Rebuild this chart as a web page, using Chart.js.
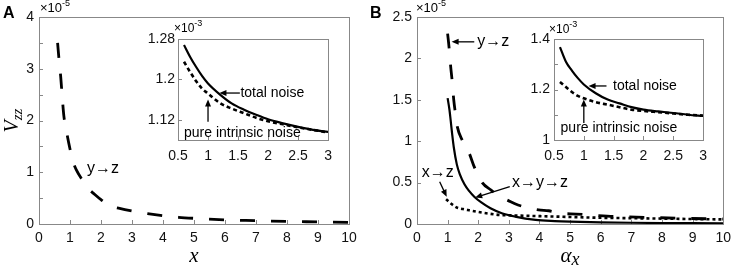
<!DOCTYPE html>
<html>
<head>
<meta charset="utf-8">
<script src="https://cdn.jsdelivr.net/npm/chart.js@4.4.1/dist/chart.umd.min.js"></script>
<style>
  body { margin: 0; background: #fff; width: 737px; height: 270px; position: relative; overflow: hidden; }
  canvas { position: absolute; }
</style>
</head>
<body>
<canvas id="mainA" width="368" height="270" style="left:0;top:0"></canvas>
<canvas id="mainB" width="369" height="270" style="left:368px;top:0"></canvas>
<canvas id="insetA" width="200" height="150" style="left:140px;top:15px"></canvas>
<canvas id="insetB" width="205" height="150" style="left:510px;top:15px"></canvas>
<script>
// Panel A, main plot: y->z (x10^-5)
const aX   = [0.6, 0.65, 0.7, 0.75, 0.8, 0.9, 1.0, 1.1, 1.2, 1.4, 1.6, 1.8, 2.0, 2.3, 2.6, 3.0, 3.5, 4.0, 4.5, 5.0, 6.0, 7.0, 8.0, 9.0, 10.0];
const aYZ  = [3.5, 3.15, 2.85, 2.45, 2.1, 1.75, 1.45, 1.2, 1.05, 0.85, 0.68, 0.57, 0.47, 0.35, 0.3, 0.25, 0.2, 0.16, 0.13, 0.11, 0.08, 0.065, 0.05, 0.04, 0.03];

// Panel A, inset (x10^-3)
const aInX      = [0.6, 0.7, 0.8, 0.9, 1.0, 1.2, 1.4, 1.6, 1.8, 2.0, 2.25, 2.5, 2.75, 3.0];
const aTotal    = [1.268, 1.245, 1.225, 1.207, 1.192, 1.17, 1.152, 1.14, 1.13, 1.121, 1.113, 1.106, 1.1, 1.096];
const aIntrinsic= [1.235, 1.215, 1.197, 1.182, 1.172, 1.153, 1.142, 1.133, 1.124, 1.117, 1.111, 1.105, 1.1, 1.095];

// Panel B, main plot (x10^-5)
const bYZx  = [1.0, 1.05, 1.1, 1.15, 1.2, 1.25, 1.32, 1.48, 1.6, 1.7, 1.87, 2.13, 2.42, 2.7, 2.94, 3.3, 3.97, 4.3, 4.7, 5.2, 5.8, 6.5, 7.5, 8.5, 10.0];
const bYZ   = [2.3, 2.12, 1.9, 1.72, 1.5, 1.35, 1.17, 1.01, 0.93, 0.86, 0.69, 0.5, 0.41, 0.33, 0.29, 0.23, 0.17, 0.16, 0.13, 0.12, 0.105, 0.09, 0.08, 0.07, 0.06];
const bXYZx = [1.0, 1.06, 1.1, 1.15, 1.2, 1.3, 1.4, 1.55, 1.7, 1.87, 2.1, 2.4, 2.77, 3.2, 3.87, 4.5, 5.0, 6.0, 7.0, 8.0, 9.0, 10.0];
const bXYZ  = [1.52, 1.38, 1.25, 1.08, 0.93, 0.72, 0.6, 0.48, 0.4, 0.33, 0.26, 0.19, 0.13, 0.09, 0.05, 0.035, 0.028, 0.02, 0.015, 0.012, 0.01, 0.008];
const bXZx  = [0.95, 1.1, 1.29, 1.5, 1.71, 2.0, 2.26, 2.68, 3.0, 3.5, 4.0, 5.0, 6.0, 7.0, 8.0, 9.0, 10.0];
const bXZ   = [0.3, 0.25, 0.2, 0.18, 0.165, 0.145, 0.13, 0.11, 0.105, 0.1, 0.095, 0.085, 0.075, 0.07, 0.065, 0.06, 0.055];

// Panel B, inset (x10^-3)
const bInX      = [0.6, 0.7, 0.8, 0.9, 1.0, 1.2, 1.4, 1.6, 1.8, 2.0, 2.25, 2.5, 2.75, 3.0];
const bTotal    = [1.368, 1.31, 1.275, 1.245, 1.22, 1.185, 1.16, 1.145, 1.13, 1.12, 1.113, 1.107, 1.1, 1.095];
const bIntrinsic= [1.23, 1.21, 1.19, 1.175, 1.165, 1.15, 1.14, 1.13, 1.12, 1.115, 1.11, 1.105, 1.1, 1.097];

// tick labels
const insetAYTicks = [1.12, 1.2, 1.28];

const TICK_FONT = { family: '"Liberation Sans", Arial, sans-serif', size: 14 };
const SANS = '"Liberation Sans", Arial, sans-serif';
const SERIF = '"Liberation Serif", "Times New Roman", serif';

function pts(xs, ys) {
    return xs.map((x, i) => ({ x: x, y: ys[i] }));
}

function line(data, kind) {
    let ds = { data: data, borderColor: '#000', pointRadius: 0, fill: false, cubicInterpolationMode: 'monotone', borderCapStyle: 'butt' };
    if (kind === 'dash') { ds.borderWidth = 2.8; ds.borderDash = [15, 16]; }
    else if (kind === 'dot') { ds.borderWidth = 2.6; ds.borderDash = [3, 3]; }
    else if (kind === 'dotin') { ds.borderWidth = 2.6; ds.borderDash = [4, 3]; }
    else { ds.borderWidth = 2.2; }
    return ds;
}

function axis(min, max, step, fmt, pad, fitSize, isX) {
    return {
        type: 'linear', min: min, max: max,
        ticks: { stepSize: step, autoSkip: false, maxRotation: 0, padding: pad, color: '#111', font: TICK_FONT, callback: fmt },
        grid: { display: false, drawTicks: false },
        border: { display: false },
        afterFit: s => { if (isX) s.height = fitSize; else s.width = fitSize; }
    };
}

// frame + inward ticks
const framePlugin = {
    id: 'frame',
    beforeDatasetsDraw(chart) {
        const { ctx, chartArea: a, scales } = chart;
        ctx.save();
        ctx.strokeStyle = '#888';
        ctx.lineWidth = 1;
        ctx.strokeRect(Math.round(a.left) + 0.5, Math.round(a.top) + 0.5, Math.round(a.right - a.left), Math.round(a.bottom - a.top));
        ctx.beginPath();
        scales.x.ticks.forEach(t => {
            const px = Math.round(scales.x.getPixelForValue(t.value)) + 0.5;
            ctx.moveTo(px, a.bottom); ctx.lineTo(px, a.bottom - 4);
        });
        scales.y.ticks.forEach(t => {
            const py = Math.round(scales.y.getPixelForValue(t.value)) + 0.5;
            ctx.moveTo(a.left, py); ctx.lineTo(a.left + 4, py);
        });
        ctx.stroke();
        ctx.restore();
    }
};

// text + arrow notes placed in data units
function notes(items) {
    return {
        id: 'notes',
        afterDatasetsDraw(chart) {
            const { ctx, scales: { x, y } } = chart;
            ctx.save();
            ctx.fillStyle = '#000';
            ctx.strokeStyle = '#000';
            items.forEach(n => {
                if (n.text) {
                    ctx.font = n.font || ('15px ' + SANS);
                    ctx.textAlign = n.align || 'left';
                    ctx.textBaseline = 'middle';
                    ctx.fillText(n.text, x.getPixelForValue(n.x), y.getPixelForValue(n.y));
                } else if (n.from) {
                    const x1 = x.getPixelForValue(n.from[0]), y1 = y.getPixelForValue(n.from[1]);
                    const x2 = x.getPixelForValue(n.to[0]), y2 = y.getPixelForValue(n.to[1]);
                    const ang = Math.atan2(y2 - y1, x2 - x1);
                    const hl = 7, hw = 3;
                    ctx.lineWidth = 1.3;
                    ctx.beginPath();
                    ctx.moveTo(x1, y1);
                    ctx.lineTo(x2 - Math.cos(ang) * hl * 0.8, y2 - Math.sin(ang) * hl * 0.8);
                    ctx.stroke();
                    ctx.beginPath();
                    ctx.moveTo(x2, y2);
                    ctx.lineTo(x2 - Math.cos(ang) * hl - Math.sin(ang) * hw, y2 - Math.sin(ang) * hl + Math.cos(ang) * hw);
                    ctx.lineTo(x2 - Math.cos(ang) * hl + Math.sin(ang) * hw, y2 - Math.sin(ang) * hl - Math.cos(ang) * hw);
                    ctx.closePath();
                    ctx.fill();
                }
            });
            ctx.restore();
        }
    };
}

// exponent label above the y axis, panel letters and axis titles
function decor(opt) {
    return {
        id: 'decor',
        afterDraw(chart) {
            const { ctx, chartArea: a } = chart;
            ctx.save();
            ctx.fillStyle = '#000';
            ctx.textBaseline = 'alphabetic';
            ctx.textAlign = 'left';
            // x10^n
            const ex = a.left + opt.expDx, ey = a.top + opt.expDy;
            ctx.font = (opt.expSize || 13) + 'px ' + SANS;
            ctx.fillText('\u00d710', ex, ey);
            const w = ctx.measureText('\u00d710').width;
            ctx.font = '9px ' + SANS;
            ctx.fillText(opt.exp, ex + w, ey - 6);
            if (opt.letter) {
                ctx.font = 'bold 16px ' + SANS;
                ctx.fillText(opt.letter, opt.letterX, 18);
            }
            if (opt.xTitle) {
                const cx = (a.left + a.right) / 2;
                ctx.font = 'italic 21px ' + SERIF;
                const tw = ctx.measureText(opt.xTitle).width;
                let sw = 0;
                if (opt.xSub) { ctx.font = 'italic 18px ' + SERIF; sw = ctx.measureText(opt.xSub).width; }
                const x0 = cx - (tw + sw) / 2;
                ctx.font = 'italic 21px ' + SERIF;
                ctx.fillText(opt.xTitle, x0, 262);
                if (opt.xSub) { ctx.font = 'italic 18px ' + SERIF; ctx.fillText(opt.xSub, x0 + tw, 265); }
            }
            if (opt.yTitle) {
                ctx.translate(18, (a.top + a.bottom) / 2);
                ctx.rotate(-Math.PI / 2);
                ctx.font = 'italic 20px ' + SERIF;
                const vw = ctx.measureText('V').width;
                ctx.font = 'italic 15px ' + SERIF;
                const zw = ctx.measureText('zz').width;
                const x0 = -(vw + zw) / 2;
                ctx.font = 'italic 20px ' + SERIF;
                ctx.fillText('V', x0, 0);
                ctx.font = 'italic 15px ' + SERIF;
                ctx.fillText('zz', x0 + vw, 4);
            }
            ctx.restore();
        }
    };
}

function intLabel(v) { return Math.abs(v - Math.round(v)) < 1e-6 ? String(Math.round(v)) : ''; }
function plainLabel(v) { return String(+v.toFixed(2)); }

const baseOpts = {
    responsive: false,
    animation: false,
    events: [],
    plugins: { legend: { display: false }, tooltip: { enabled: false } }
};

// ---- Panel A main
new Chart(document.getElementById('mainA'), {
    type: 'line',
    data: { datasets: [line(pts(aX, aYZ), 'dash')] },
    options: Object.assign({}, baseOpts, {
        layout: { padding: { top: 17, right: 19, left: 0, bottom: 0 } },
        scales: {
            x: axis(0, 10, 1, plainLabel, 6, 46, true),
            y: axis(0, 4, 0.5, intLabel, 5, 39, false)
        }
    }),
    plugins: [framePlugin,
        notes([{ text: 'y\u2192z', x: 1.55, y: 1.08, font: '16px ' + SANS }]),
        decor({ exp: '-5', expDx: 1, expDy: -5, letter: 'A', letterX: 3, xTitle: 'x', yTitle: true })]
});

// ---- Panel B main
new Chart(document.getElementById('mainB'), {
    type: 'line',
    data: { datasets: [line(pts(bYZx, bYZ), 'dash'), line(pts(bXYZx, bXYZ), 'solid'), line(pts(bXZx, bXZ), 'dot')] },
    options: Object.assign({}, baseOpts, {
        layout: { padding: { top: 17, right: 10, left: 0, bottom: 0 } },
        scales: {
            x: axis(0, 10, 1, plainLabel, 6, 46, true),
            y: axis(0, 2.5, 0.5, plainLabel, 5, 49, false)
        }
    }),
    plugins: [framePlugin,
        notes([
            { text: 'y\u2192z', x: 1.97, y: 2.2, font: '16px ' + SANS },
            { from: [1.87, 2.2], to: [1.13, 2.2] },
            { text: 'x\u2192z', x: 0.68, y: 0.62, align: 'center', font: '16px ' + SANS },
            { from: [0.74, 0.51], to: [0.97, 0.33] },
            { text: 'x\u2192y\u2192z', x: 3.1, y: 0.5, font: '16px ' + SANS },
            { from: [3.03, 0.45], to: [1.9, 0.32] }
        ]),
        decor({ exp: '-5', expDx: -1, expDy: -5, letter: 'B', letterX: 2, xTitle: '\u03b1', xSub: 'x' })]
});

// ---- Panel A inset
const insetAY = axis(1.08, 1.28, 0.04, plainLabel, 3, 38, false);
insetAY.afterBuildTicks = s => { s.ticks = insetAYTicks.map(v => ({ value: v })); };
new Chart(document.getElementById('insetA'), {
    type: 'line',
    data: { datasets: [line(pts(aInX, aTotal), 'solid'), line(pts(aInX, aIntrinsic), 'dotin')] },
    options: Object.assign({}, baseOpts, {
        layout: { padding: { top: 24, right: 6, left: 0, bottom: 0 } },
        scales: {
            x: axis(0.5, 3, 0.5, plainLabel, 8, 25, true),
            y: insetAY
        }
    }),
    plugins: [framePlugin,
        notes([
            { text: 'total noise', x: 1.54, y: 1.173, font: '14px ' + SANS },
            { from: [1.53, 1.173], to: [1.19, 1.173] },
            { text: 'pure intrinsic noise', x: 0.6, y: 1.094, font: '14px ' + SANS },
            { from: [1.0, 1.116], to: [1.0, 1.16] }
        ]),
        decor({ exp: '-3', expDx: -4, expDy: -7, expSize: 12 })]
});

// ---- Panel B inset
new Chart(document.getElementById('insetB'), {
    type: 'line',
    data: { datasets: [line(pts(bInX, bTotal), 'solid'), line(pts(bInX, bIntrinsic), 'dotin')] },
    options: Object.assign({}, baseOpts, {
        layout: { padding: { top: 24, right: 7, left: 0, bottom: 0 } },
        scales: {
            x: axis(0.5, 3, 0.5, plainLabel, 8, 25, true),
            y: axis(1.0, 1.4, 0.1, v => (Math.round(v * 10) % 2 === 0 ? plainLabel(v) : ''), 4, 44, false)
        }
    }),
    plugins: [framePlugin,
        notes([
            { text: 'total noise', x: 1.49, y: 1.214, font: '14px ' + SANS },
            { from: [1.38, 1.214], to: [1.08, 1.214] },
            { text: 'pure intrinsic noise', x: 0.61, y: 1.048, font: '14px ' + SANS },
            { from: [1.0, 1.067], to: [1.0, 1.16] }
        ]),
        decor({ exp: '-3', expDx: -5, expDy: -6, expSize: 12 })]
});
</script>
</body>
</html>
